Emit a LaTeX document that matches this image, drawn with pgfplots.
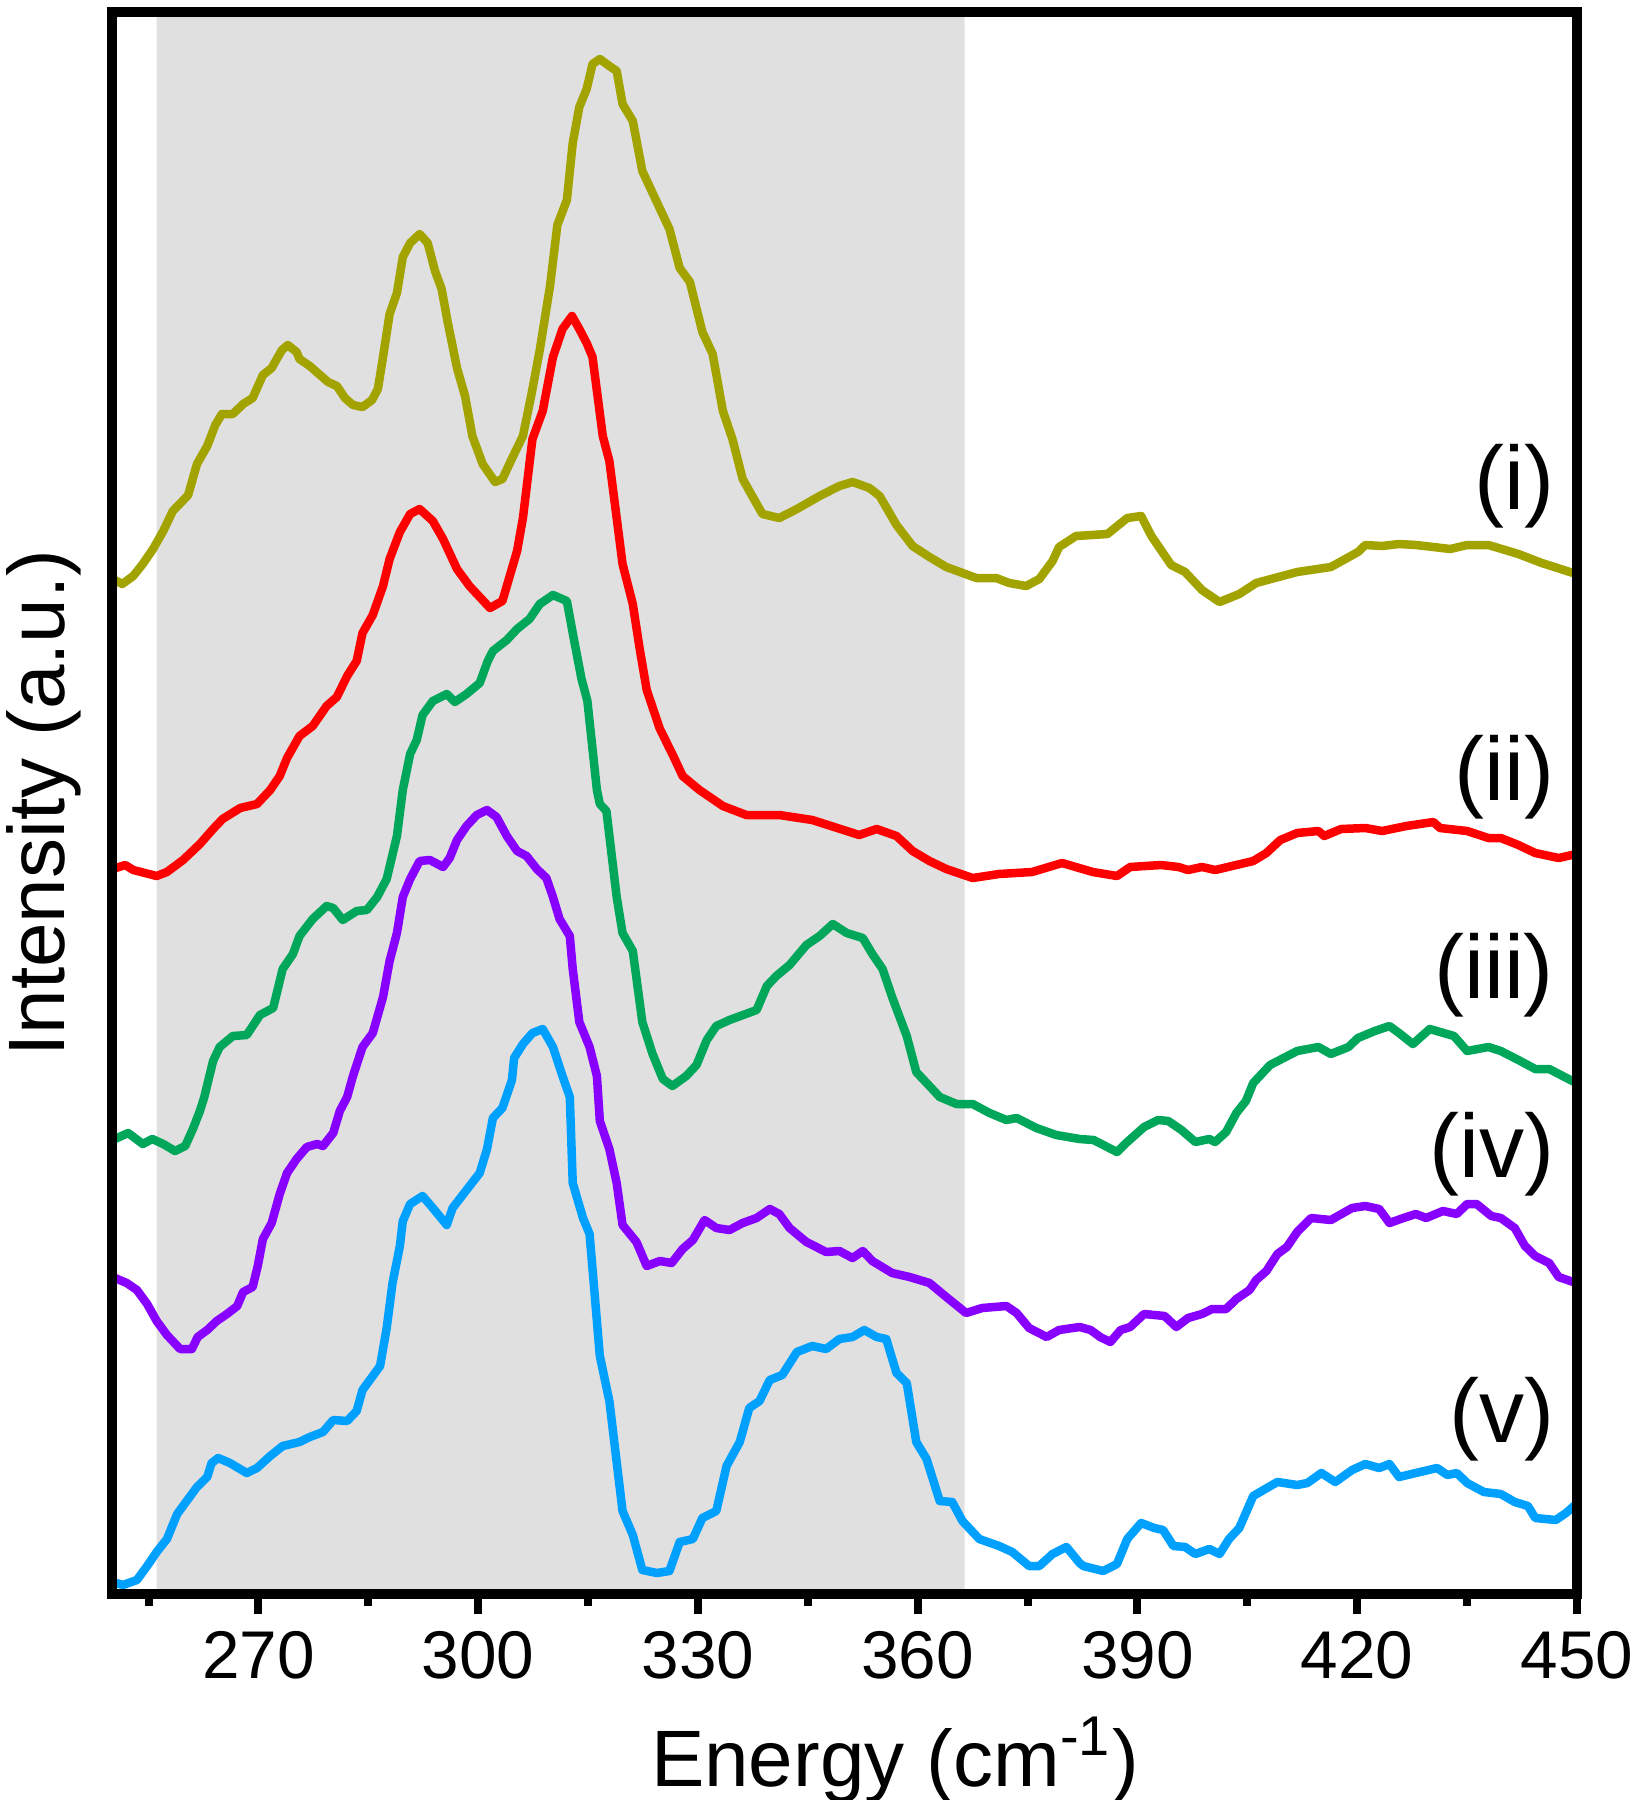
\documentclass[border=0pt]{standalone}
\usepackage{fontspec}
\setmainfont{Liberation Sans}
\usepackage{pgfplots}
\pgfplotsset{compat=1.18}
\definecolor{colI}{RGB}{163,163,0}
\definecolor{colII}{RGB}{255,0,0}
\definecolor{colIII}{RGB}{0,166,90}
\definecolor{colIV}{RGB}{136,0,255}
\definecolor{colV}{RGB}{0,160,255}
\definecolor{shade}{RGB}{224,224,224}
\begin{document}
\begin{tikzpicture}
\begin{axis}[
  scale only axis,
  width=293pt, height=316.4pt,
  xmin=250, xmax=450, ymin=0, ymax=1582,
  axis on top,
  xtick pos=bottom,
  xtick={270,300,...,450},
  minor xtick={255,285,...,435},
  ytick=\empty,
  tick align=outside,
  major tick length=4pt,
  minor tick length=2.4pt,
  every tick/.style={black, line width=1.6pt},
  axis line style={line width=2pt},
  /pgf/number format/assume math mode=true,
  xticklabel style={font=\fontsize{13.5}{16}\selectfont},
  every axis x label/.style={at={(axis description cs:0.5345,-0.105)}, anchor=center, font=\fontsize{16}{19}\selectfont},
  every axis y label/.style={at={(axis description cs:-0.0464,0.5)}, anchor=center, rotate=90, font=\fontsize{16}{19}\selectfont},
  xlabel={Energy (cm\textsuperscript{-1})},
  ylabel={Intensity (a.u.)},
  every axis plot/.append style={line width=1.7pt, line join=round},
]
\addplot[fill=shade, draw=none] coordinates {(256.1,0) (256.1,1582) (366.4,1582) (366.4,0)} \closedcycle;

% (i)
\addplot[colI] table {
250.1 1015
251.4 1010
252.9 1018
254.2 1030
255.6 1045
257.0 1063
258.3 1083
259.5 1092
260.4 1099
261.6 1130
263.0 1148
264.1 1169
265.0 1180
266.5 1180
267.9 1190
269.2 1196
270.6 1219
271.8 1226
273.2 1244
274.0 1249
275.2 1242
275.6 1235
277.0 1228
278.4 1219
279.5 1212
280.7 1208
281.8 1196
282.9 1189
284.2 1187
285.5 1194
286.3 1205
287.0 1237
287.9 1280
288.9 1301
289.7 1337
290.7 1351
292.0 1360
293.1 1351
294.1 1323
295.0 1305
295.8 1273
297.1 1226
298.2 1198
299.2 1158
300.6 1130
302.3 1112
303.3 1115
304.7 1137
306.1 1158
307.3 1201
308.4 1244
309.8 1308
310.8 1369
312.1 1394
312.9 1451
313.8 1487
314.8 1505
315.6 1530
316.6 1535
317.9 1528
318.9 1523
319.7 1490
321.1 1473
322.4 1423
323.8 1401
326.1 1365
327.5 1326
328.9 1312
330.6 1262
332.0 1240
333.4 1183
334.7 1155
336.1 1115
337.4 1098
338.8 1080
341.1 1076
343.5 1085
346.6 1098
349.3 1108
351.1 1112
353.4 1106
354.8 1098
357.1 1069
359.3 1048
361.6 1037
363.9 1027
368.0 1016
370.7 1016
372.5 1011
374.8 1008
376.6 1015
378.4 1033
379.3 1047
381.6 1058
385.9 1060
388.6 1076
390.5 1078
391.9 1058
394.6 1029
396.5 1022
398.8 1004
401.2 992
403.9 1000
406.2 1011
411.8 1022
416.4 1027
420.1 1042
421.1 1049
423.4 1048
425.7 1050
428.0 1049
430.4 1047
432.7 1045
435.0 1049
437.9 1049
442.0 1040
445.2 1031
449.9 1020
};

% (ii)
\addplot[colII] table {
250.1 725
251.8 729
252.9 724
256.1 718
257.5 722
259.7 734
262.0 750
263.8 765
265.1 775
267.5 786
269.8 790
271.6 804
272.9 818
273.9 836
275.6 858
277.4 868
279.3 888
280.7 897
282.1 918
283.4 933
284.2 961
285.6 979
287.0 1008
287.9 1035
289.3 1062
290.7 1080
292.0 1085
293.8 1073
295.2 1055
297.1 1025
298.8 1008
301.6 986
303.3 993
304.3 1018
305.3 1043
306.1 1076
307.4 1155
308.8 1183
310.2 1237
311.5 1265
312.8 1278
313.8 1265
314.8 1251
315.6 1237
317.0 1158
317.9 1133
318.9 1076
319.7 1030
321.1 990
322.0 947
323.0 904
324.8 865
326.5 840
327.9 818
330.2 804
333.4 788
336.6 779
341.1 779
345.6 774
350.3 763
352.0 759
354.4 765
357.1 758
359.3 743
361.6 733
363.9 725
367.5 716
371.1 720
375.6 722
379.7 731
383.9 722
387.2 718
389.0 727
393.2 729
395.6 727
396.9 724
398.8 727
400.6 724
405.8 733
407.6 741
409.5 754
411.8 761
414.7 763
415.5 758
417.8 765
421.1 766
423.4 763
426.7 768
430.4 772
431.3 766
435.0 763
437.9 756
439.6 756
442.0 749
444.3 741
447.5 736
449.9 740
};

% (iii)
\addplot[colIII] table {
250.1 454
252.2 461
254.2 450
255.5 455
257.0 450
258.6 443
260.0 448
261.1 466
262.0 483
262.6 497
263.8 533
264.7 547
266.5 558
268.4 559
270.2 579
272.0 586
273.3 625
274.7 640
275.6 658
277.4 675
279.3 688
280.2 686
281.5 674
283.4 683
284.8 684
286.2 697
287.5 715
288.9 758
289.7 804
290.7 840
291.6 854
292.4 879
293.8 893
295.7 900
296.8 892
298.4 900
300.2 911
301.3 933
302.0 943
303.9 954
305.3 965
307.0 975
308.4 990
310.2 999
312.1 993
312.9 961
314.1 915
314.9 893
316.2 804
316.6 790
317.5 783
318.9 697
319.7 661
321.1 643
322.4 572
323.8 540
325.2 515
326.5 508
328.4 518
329.8 529
331.2 554
332.5 568
334.3 574
338.0 584
339.4 608
340.7 618
342.5 629
344.8 649
346.6 658
348.4 670
350.3 661
352.5 656
353.8 640
355.2 625
356.5 597
358.5 558
359.8 522
361.6 508
363.0 497
365.3 490
367.5 490
369.8 481
372.1 474
373.5 476
376.2 466
378.9 459
382.1 455
384.0 454
387.2 442
388.6 452
390.9 467
392.8 474
394.2 473
396.0 464
397.9 452
399.8 455
400.6 452
402.1 462
403.5 481
404.8 493
405.8 511
408.1 529
411.8 543
414.7 547
416.4 540
418.8 547
420.1 556
422.4 563
424.4 568
425.7 561
427.6 550
429.9 565
433.2 558
435.0 543
437.9 547
439.6 543
442.0 534
444.3 525
446.2 525
449.9 511
};

% (iv)
\addplot[colIV] table {
250.1 317
252.0 311
253.4 304
254.8 290
256.1 273
257.5 259
259.3 245
260.9 245
261.7 257
263.0 264
264.3 273
265.7 280
267.1 288
267.9 302
269.2 307
269.9 328
270.6 355
271.8 371
272.9 400
273.9 421
275.2 435
276.6 447
278.0 450
278.8 448
280.2 461
281.1 483
282.1 497
282.9 518
284.2 547
285.6 561
287.0 597
287.9 633
288.9 661
289.7 697
290.7 715
292.0 733
293.4 734
295.2 727
296.1 736
297.1 754
298.4 768
299.8 779
301.2 784
302.5 777
303.9 758
305.3 743
306.6 738
308.0 725
309.3 716
310.2 697
311.1 675
312.5 658
312.9 625
313.8 572
315.2 547
316.2 518
316.6 473
317.9 445
318.9 411
319.7 369
321.6 352
323.0 328
324.8 333
326.4 331
327.9 345
329.3 354
330.9 374
332.5 366
334.3 364
336.1 371
338.0 376
339.8 385
341.1 380
342.5 366
344.8 352
347.5 342
349.3 343
351.1 336
352.5 343
353.8 333
356.5 321
358.9 317
361.6 311
363.9 297
366.6 281
368.8 286
372.1 288
373.5 281
375.2 266
377.6 257
379.3 264
382.1 267
383.6 264
384.9 257
386.3 252
387.7 264
389.0 267
390.9 280
393.7 278
395.3 267
396.9 276
398.8 280
400.2 285
402.1 285
403.5 295
405.3 304
406.2 314
407.6 323
409.1 340
410.4 347
411.8 362
413.7 376
416.4 374
419.3 386
421.1 388
423.0 385
424.4 371
426.3 376
428.0 380
429.4 376
431.7 383
433.6 380
435.0 390
436.3 390
438.3 378
439.6 376
441.5 366
442.9 348
444.3 338
446.2 331
447.5 317
449.9 311
};

% (v)
\addplot[colV] table {
250.1 12
251.5 9
253.4 14
254.8 28
256.1 42
257.5 55
258.9 80
260.2 93
261.6 107
263.0 117
263.6 131
264.5 136
266.1 131
268.4 121
269.8 126
271.6 138
273.3 148
275.6 152
277.0 157
278.8 162
280.2 174
282.1 173
283.4 183
284.2 204
285.2 214
286.6 228
287.5 266
288.3 311
289.3 348
289.7 373
290.7 390
292.4 398
293.8 386
295.7 369
296.5 386
298.4 404
300.2 421
301.2 445
302.0 476
303.3 486
304.6 514
304.9 536
306.1 550
307.4 561
308.8 565
310.2 547
311.5 518
312.5 497
312.9 411
314.3 376
315.2 360
316.6 238
317.9 193
319.7 83
321.1 59
322.4 24
324.4 21
326.1 23
327.5 52
329.3 55
330.6 76
332.5 83
333.9 128
335.7 152
337.0 186
338.4 193
339.8 214
341.5 219
343.5 242
345.6 248
347.5 245
349.3 255
351.1 257
352.7 264
354.4 257
355.7 255
357.1 221
358.5 211
359.8 152
361.2 135
363.0 93
364.7 92
366.1 73
368.4 55
371.1 48
372.9 42
375.2 28
376.6 28
378.4 40
380.3 47
382.1 31
382.6 28
385.3 23
387.2 30
388.6 55
390.5 71
392.3 66
393.5 64
394.9 48
396.5 47
397.9 40
399.8 45
401.2 40
402.5 55
403.9 66
405.8 98
407.2 104
409.1 112
411.8 109
413.2 111
415.1 121
417.0 112
419.3 124
421.1 130
423.0 126
424.4 130
425.7 117
428.0 121
430.9 126
432.3 119
433.6 121
435.0 111
437.3 102
439.6 100
441.5 92
443.3 88
444.3 76
447.1 74
448.5 81
449.9 90
};

\node[anchor=east, inner sep=0pt, font=\fontsize{18}{21}\selectfont] at (axis cs:447,1108) {(i)};
\node[anchor=east, inner sep=0pt, font=\fontsize{18}{21}\selectfont] at (axis cs:447,817) {(ii)};
\node[anchor=east, inner sep=0pt, font=\fontsize{18}{21}\selectfont] at (axis cs:447,619) {(iii)};
\node[anchor=east, inner sep=0pt, font=\fontsize{18}{21}\selectfont] at (axis cs:447,440) {(iv)};
\node[anchor=east, inner sep=0pt, font=\fontsize{18}{21}\selectfont] at (axis cs:447,175) {(v)};
\end{axis}
\pgfresetboundingbox
\path (current axis.south west) ++(-22.4pt,-41.2pt) rectangle ++(328pt,360pt);
\end{tikzpicture}
\end{document}
